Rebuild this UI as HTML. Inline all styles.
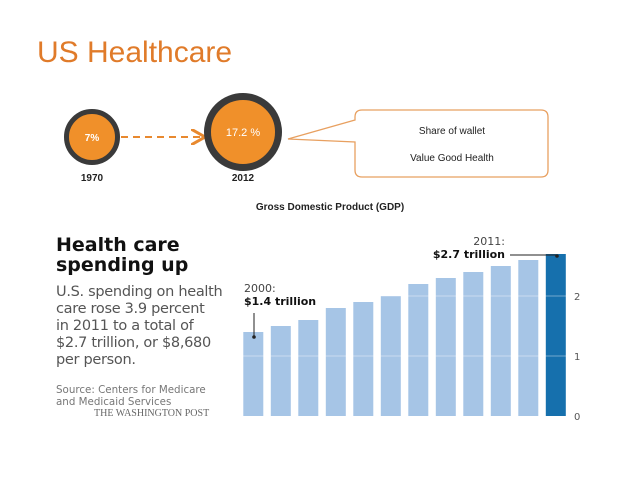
<!DOCTYPE html>
<html><head><meta charset="utf-8"><style>
body{margin:0;width:638px;height:493px;background:#fff;position:relative;overflow:hidden;font-family:"Liberation Sans",sans-serif}
.a{position:absolute;white-space:nowrap}
</style></head><body>
<div class="a" style="left:37px;top:36px;font-size:30px;color:#e07b2a">US Healthcare</div>
<svg class="a" style="left:0;top:0" width="638" height="230">
<defs><marker id="ar" markerWidth="8" markerHeight="8" refX="6" refY="4" orient="auto"><path d="M0,0 L7,4 L0,8" fill="none" stroke="#e8892f" stroke-width="1.5"/></marker></defs>
<circle cx="92" cy="137" r="25.5" fill="#f0902a" stroke="#3a3a3a" stroke-width="5"/>
<text x="92" y="141" text-anchor="middle" font-size="10" font-weight="bold" fill="#fff" font-family="Liberation Sans">7%</text>
<line x1="121" y1="137" x2="203" y2="137" stroke="#e8892f" stroke-width="2" stroke-dasharray="7,5" marker-end="url(#ar)"/>
<circle cx="243" cy="132" r="35.5" fill="#f0902a" stroke="#3a3a3a" stroke-width="7"/>
<text x="243" y="136" text-anchor="middle" font-size="11" fill="#fff" font-family="Liberation Sans">17.2 %</text>
<text x="92" y="181" text-anchor="middle" font-size="10" font-weight="bold" fill="#222">1970</text>
<text x="243" y="181" text-anchor="middle" font-size="10" font-weight="bold" fill="#222">2012</text>
<path d="M288,139 L355,120 L355,117 Q355,110 362,110 L541,110 Q548,110 548,117 L548,170 Q548,177 541,177 L362,177 Q355,177 355,170 L355,142 Z" fill="#fff" stroke="#e8a060" stroke-width="1.3"/>
<text x="452" y="134" text-anchor="middle" font-size="10" fill="#222">Share of wallet</text>
<text x="452" y="161" text-anchor="middle" font-size="10" fill="#222">Value Good Health</text>
<text x="330" y="210" text-anchor="middle" font-size="10" font-weight="bold" fill="#222">Gross Domestic Product (GDP)</text>
</svg>
<div class="a" style="left:56px;top:235px;font-size:19px;font-weight:bold;line-height:20px;color:#111;font-family:'DejaVu Sans',sans-serif">Health care<br>spending up</div>
<div class="a" style="left:56px;top:284px;font-size:14.5px;line-height:17px;color:#555;font-family:'DejaVu Sans',sans-serif;letter-spacing:-0.3px">U.S. spending on health<br>care rose 3.9 percent<br>in 2011 to a total of<br>$2.7 trillion, or $8,680<br>per person.</div>
<div class="a" style="left:56px;top:384px;font-size:10.3px;line-height:12px;color:#777;font-family:'DejaVu Sans',sans-serif">Source: Centers for Medicare<br>and Medicaid Services</div>
<div class="a" style="left:94px;top:408px;font-size:10px;color:#666;font-family:'Liberation Serif',serif">THE WASHINGTON POST</div>
<svg class="a" id="chart" style="left:0;top:0" width="638" height="493"></svg>
<script>
const years=[2000,2001,2002,2003,2004,2005,2006,2007,2008,2009,2010,2011];
const values=[1.4,1.5,1.6,1.8,1.9,2.0,2.2,2.3,2.4,2.5,2.6,2.7];
const ticks=[0,1,2];
const svg=document.getElementById('chart');const NS='http://www.w3.org/2000/svg';
const y=v=>416-v*60;const x=i=>243.3+i*27.5;const bw=20;
function mk(t,a){const e=document.createElementNS(NS,t);for(const k in a)e.setAttribute(k,a[k]);svg.appendChild(e);return e;}
values.forEach((v,i)=>{const r=mk('rect',{x:x(i),y:y(v),width:bw,height:416-y(v),fill:i===values.length-1?'#1670ad':'#a6c5e6'});

});
ticks.forEach(t=>{if(t>0){const l=mk('line',{x1:240,x2:570,y1:y(t),y2:y(t),stroke:'#fff','stroke-width':1,opacity:0.4});

}
const tx=mk('text',{x:574,y:y(t)+4,'font-size':10,fill:'#555','font-family':'DejaVu Sans'});tx.textContent=t;

});
const f=values.length-1;
function ann(lbl,val,tx,ty,anchor){const a=mk('text',{x:tx,y:ty,'font-size':11,fill:'#444','text-anchor':anchor,'font-family':'DejaVu Sans'});a.textContent=lbl;


const b=mk('text',{x:tx,y:ty+13,'font-size':11,'font-weight':'bold',fill:'#111','text-anchor':anchor,'font-family':'DejaVu Sans'});b.textContent=val;

}
ann(years[0]+':','$1.4 trillion',244,292,'start');
mk('line',{x1:254,x2:254,y1:313,y2:337,stroke:'#222'});mk('circle',{cx:254,cy:337,r:1.8,fill:'#222'});
ann(years[f]+':','$2.7 trillion',505,245,'end');
mk('line',{x1:510,x2:557,y1:255,y2:255,stroke:'#222'});mk('circle',{cx:557,cy:256,r:1.8,fill:'#222'});
</script>
</body></html>
